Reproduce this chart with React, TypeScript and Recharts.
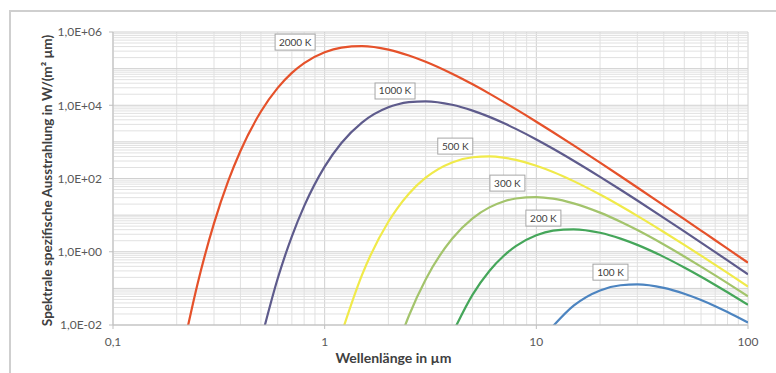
import React from "react";
import { LineChart, Line, XAxis, YAxis, ReferenceLine, ReferenceDot } from "recharts";

// wavelength in µm
const wavelengths = [
  0.22, 0.25, 0.3, 0.35, 0.4, 0.5, 0.6, 0.7, 0.8, 1, 1.2, 1.5, 2, 2.2, 2.5, 3, 4,
  5, 6, 7, 8, 10, 12, 15, 20, 25, 30, 40, 50, 60, 70, 80, 100,
];

// spectral exitance in W/(m² µm)
const m2000 = [
  0.0046, 0.122, 5.94, 84.4, 565, 6755, 29870, 76630, 142000, 281000, 375500,
  410700, 329500, 287000, 228500, 154000, 72500, 37240, 20780, 12400, 7834, 3553,
  1830, 801, 270, 114.9, 56.8, 18.55, 7.74, 3.78, 2.06, 1.21, 0.502,
];
const m1000 = [
  null, null, null, null, null, 0.0038, 0.1855, 2.64, 17.65, 211, 933, 3365, 8790,
  10500, 12170, 12830, 10300, 7140, 4813, 3270, 2265, 1164, 649, 306, 111, 49.2,
  25.0, 8.44, 3.59, 1.776, 0.976, 0.58, 0.242,
];
const m500 = [
  null, null, null, null, null, null, null, null, null, null, 0.0058, 0.2297, 6.6,
  15.15, 38.4, 105.1, 274.7, 380.4, 401, 371, 321.8, 223, 150.4, 84.8, 36.4, 17.73,
  9.57, 3.47, 1.539, 0.782, 0.438, 0.264, 0.112,
];
const m300 = [
  null, null, null, null, null, null, null, null, null, null, null, null, null,
  0.00247, 0.0179, 0.1756, 2.268, 8.18, 16.26, 23.6, 28.5, 31.2, 28.2, 21.0, 11.7,
  6.59, 3.9, 1.577, 0.744, 0.393, 0.2263, 0.139, 0.0608,
];
const m200 = [
  null, null, null, null, null, null, null, null, null, null, null, null, null,
  null, null, null, 0.00565, 0.0676, 0.2987, 0.766, 1.42, 2.81, 3.755, 4.107, 3.295,
  2.285, 1.54, 0.725, 0.372, 0.2078, 0.124, 0.0783, 0.0356,
];
const m100 = [
  null, null, null, null, null, null, null, null, null, null, null, null, null,
  null, null, null, null, null, null, null, null, null, 0.00933, 0.03365, 0.0879,
  0.1217, 0.1283, 0.103, 0.0714, 0.0481, 0.0327, 0.02265, 0.01164,
];

const seriesKeys = ["t2000", "t1000", "t500", "t300", "t200", "t100"];
const seriesNames = ["2000 K", "1000 K", "500 K", "300 K", "200 K", "100 K"];
const seriesColors = ["#E5512A", "#5E5B8C", "#F0EA4A", "#A3C46C", "#45A65A", "#4C84C0"];
const seriesValues = [m2000, m1000, m500, m300, m200, m100];

// where the boxed temperature labels sit (data coordinates)
const labelX = [0.725, 2.15, 4.14, 7.3, 10.8, 22.4];
const labelY = [530000, 24500, 767, 74.8, 8.3, 0.277];

const xTicks = [0.1, 1, 10, 100];
const xTickLabels = ["0,1", "1", "10", "100"];
const yTicks = [0.01, 1, 100, 10000, 1000000];
const yTickLabels = ["1,0E-02", "1,0E+00", "1,0E+02", "1,0E+04", "1,0E+06"];

const data = wavelengths.map((w, i) => {
  const row: any = { w };
  seriesKeys.forEach((k, s) => {
    row[k] = seriesValues[s][i];
  });
  return row;
});

// log grid: 1..9 per decade
const xGrid: { v: number; major: boolean }[] = [];
for (let d = -1; d < 2; d++) {
  for (let k = 1; k <= 9; k++) xGrid.push({ v: k * Math.pow(10, d), major: k === 1 });
}
xGrid.push({ v: 100, major: true });

const yGrid: { v: number; major: boolean }[] = [];
for (let d = -2; d < 6; d++) {
  for (let k = 1; k <= 9; k++) yGrid.push({ v: k * Math.pow(10, d), major: k === 1 });
}
yGrid.push({ v: 1000000, major: true });

const TempLabel = ({ cx, cy, text }: any) => {
  const w = text.length > 5 ? 40 : 35;
  const h = 16;
  return (
    <g>
      <rect x={cx - w / 2} y={cy - h / 2} width={w} height={h} fill="#fff" stroke="#a6a6a6" strokeWidth={1} />
      <text x={cx} y={cy + 3.5} textAnchor="middle" fontSize={10} fill="#404040">
        {text}
      </text>
    </g>
  );
};

export default function App() {
  return (
    <div
      style={{
        position: "absolute",
        left: 0,
        top: 0,
        width: 776,
        height: 373,
        overflow: "hidden",
        background: "#fff",
        fontFamily: "Lato, 'Open Sans', sans-serif",
      }}
    >
      <div
        style={{
          position: "absolute",
          left: 9,
          top: 10,
          width: 820,
          height: 420,
          borderLeft: "2px solid #cfcfcf",
          borderTop: "2px solid #cfcfcf",
        }}
      />
      <div style={{ position: "absolute", left: 0, top: 0 }}>
        <LineChart width={776} height={373} data={data} margin={{ top: 32, right: 28, left: 53, bottom: 8 }}>
          {xGrid.map((g) => (
            <ReferenceLine key={"x" + g.v} x={g.v} stroke={g.major ? "#d0d0d0" : "#e1e1e1"} strokeWidth={1} />
          ))}
          {yGrid.map((g) => (
            <ReferenceLine key={"y" + g.v} y={g.v} stroke={g.major ? "#d0d0d0" : "#e1e1e1"} strokeWidth={1} />
          ))}
          <XAxis
            dataKey="w"
            type="number"
            scale="log"
            domain={[0.1, 100]}
            ticks={xTicks}
            allowDataOverflow
            height={40}
            tickSize={4}
            tickMargin={8}
            tick={{ fill: "#595959", fontSize: 12 }}
            axisLine={{ stroke: "#bfbfbf" }}
            tickLine={{ stroke: "#bfbfbf" }}
            tickFormatter={(v) => xTickLabels[xTicks.indexOf(v)]}
            label={{
              value: "Wellenlänge in µm",
              position: "insideBottom",
              offset: 2,
              dx: -37,
              fill: "#404040",
              fontSize: 14,
              fontWeight: "bold",
            }}
          />
          <YAxis
            type="number"
            scale="log"
            domain={[0.01, 1000000]}
            ticks={yTicks}
            allowDataOverflow
            width={60}
            tickSize={4}
            tickMargin={7}
            tick={{ fill: "#595959", fontSize: 12 }}
            axisLine={{ stroke: "#bfbfbf" }}
            tickLine={{ stroke: "#bfbfbf" }}
            tickFormatter={(v) => yTickLabels[yTicks.indexOf(v)]}
            label={{
              value: "Spektrale spezifische Ausstrahlung in W/(m² µm)",
              angle: -90,
              position: "center",
              dx: -36,
              dy: 2,
              fill: "#404040",
              fontSize: 13.5,
              fontWeight: "bold",
            }}
          />
          {seriesKeys.map((k, s) => (
            <Line
              key={k}
              type="monotone"
              dataKey={k}
              name={seriesNames[s]}
              stroke={seriesColors[s]}
              strokeWidth={2.2}
              dot={false}
              activeDot={false}
              isAnimationActive={false}
            />
          ))}
          {seriesNames.map((n, s) => (
            <ReferenceDot
              key={n}
              x={labelX[s]}
              y={labelY[s]}
              ifOverflow="visible"
              shape={(p: any) => <TempLabel cx={p.cx} cy={p.cy} text={n} />}
            />
          ))}
        </LineChart>
      </div>
    </div>
  );
}
